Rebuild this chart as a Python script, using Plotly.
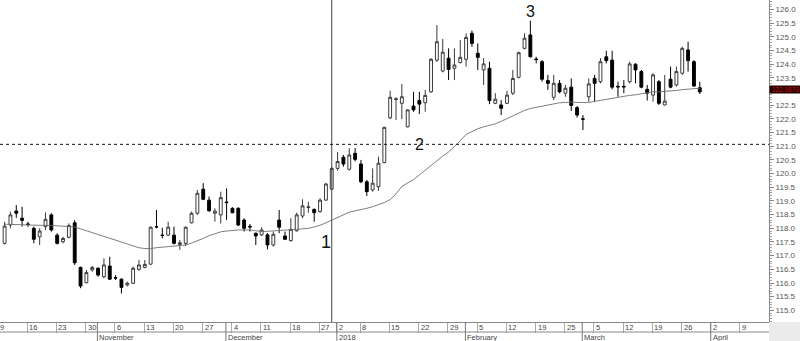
import pandas as pd
import plotly.graph_objects as go

# ---------------- data ----------------
holidays = ["2017-12-25", "2017-12-26", "2018-01-01"]
first_date = "2017-10-10"
last_date = "2018-03-29"

opens = [117.45, 118.12, 118.63, 118.37, 118.16, 118.00, 117.69, 118.06, 118.49, 117.75,
         117.51, 117.67, 118.20, 116.57, 116.01, 116.48, 116.54, 116.23, 116.62, 116.20,
         116.14, 115.93, 115.99, 116.50, 116.57, 116.69, 118.06, 117.75, 117.75, 117.75,
         117.41, 117.45, 118.20, 118.55, 119.43, 119.03, 118.55, 118.49, 118.96, 118.73,
         118.73, 118.30, 118.07, 117.82, 117.76, 117.76, 117.39, 118.30, 117.72, 117.55,
         117.91, 118.45, 118.76, 118.69, 118.61, 119.03, 119.43, 120.19, 120.60, 120.16,
         120.74, 120.35, 119.70, 119.40, 119.52, 120.40, 122.04, 122.71, 122.57, 121.71,
         122.47, 122.67, 122.59, 122.99, 124.15, 123.75, 124.22, 123.85, 124.06, 124.18,
         125.13, 124.40, 123.79, 123.85, 122.57, 122.51, 122.57, 122.94, 123.52, 124.58,
         125.07, 124.19, 124.09, 123.40, 122.79, 123.30, 122.94, 123.16, 122.41, 122.00,
         122.81, 123.48, 123.36, 124.27, 124.15, 123.19, 123.19, 123.36, 124.00, 123.73,
         123.08, 122.87, 123.36, 122.51, 123.45, 123.24, 123.67, 124.52, 124.09, 123.14]
highs = [118.24, 118.61, 118.85, 118.79, 118.24, 118.06, 118.00, 118.58, 118.55, 117.82,
         117.69, 118.18, 118.30, 116.60, 116.48, 116.62, 116.57, 116.90, 116.96, 116.29,
         116.17, 116.05, 116.60, 116.84, 116.84, 118.06, 118.67, 118.02, 118.24, 118.06,
         117.57, 118.06, 118.61, 119.40, 119.65, 119.16, 118.73, 119.34, 119.46, 118.77,
         118.77, 118.37, 118.16, 117.84, 118.04, 117.82, 117.88, 118.67, 117.88, 118.37,
         118.57, 119.06, 118.97, 118.73, 119.10, 119.65, 120.25, 120.79, 120.68, 120.93,
         120.93, 120.50, 119.77, 120.19, 120.62, 121.71, 123.03, 122.79, 123.28, 122.35,
         122.99, 122.99, 123.06, 124.22, 125.43, 124.92, 124.58, 124.58, 124.88, 125.13,
         125.23, 124.76, 124.22, 124.09, 122.94, 122.69, 123.03, 123.79, 124.46, 125.13,
         125.59, 124.27, 124.15, 123.61, 123.61, 123.42, 123.24, 123.48, 122.47, 122.14,
         123.48, 123.61, 124.22, 124.49, 124.49, 123.36, 123.42, 124.09, 124.03, 123.79,
         123.24, 123.67, 123.42, 123.61, 123.91, 123.91, 124.64, 124.82, 124.15, 123.36]
lows = [117.41, 118.00, 118.38, 118.06, 118.06, 117.45, 117.39, 117.94, 117.88, 117.41,
        117.45, 117.63, 116.66, 115.81, 115.99, 116.41, 116.23, 116.17, 116.11, 116.11,
        115.62, 115.87, 115.96, 116.45, 116.54, 116.66, 118.00, 117.63, 117.72, 117.41,
        117.21, 117.35, 118.18, 118.49, 119.03, 118.61, 118.24, 118.18, 118.30, 118.55,
        118.08, 117.88, 117.88, 117.39, 117.72, 117.23, 117.33, 117.82, 117.57, 117.51,
        117.88, 118.37, 118.57, 118.24, 118.57, 119.01, 119.40, 120.11, 120.25, 120.11,
        120.44, 119.65, 119.18, 119.34, 119.37, 120.38, 121.99, 121.96, 121.99, 121.69,
        122.26, 122.18, 122.26, 122.96, 124.08, 123.70, 123.42, 123.42, 124.03, 123.91,
        124.64, 123.79, 123.24, 122.54, 122.54, 122.14, 122.54, 122.87, 123.48, 124.54,
        124.25, 124.03, 123.36, 123.06, 122.69, 122.94, 122.81, 122.29, 122.05, 121.59,
        122.63, 122.63, 123.30, 124.03, 123.08, 122.81, 122.94, 123.30, 123.30, 123.12,
        122.67, 122.63, 122.51, 122.49, 123.12, 123.18, 123.61, 123.73, 123.18, 122.91]
closes = [118.08, 118.49, 118.55, 118.29, 118.14, 117.60, 117.90, 118.33, 117.94, 117.45,
          117.63, 118.10, 116.74, 115.89, 116.38, 116.57, 116.29, 116.66, 116.14, 116.18,
          115.84, 115.99, 116.54, 116.66, 116.68, 118.04, 118.05, 117.74, 118.04, 117.45,
          117.47, 118.04, 118.55, 119.28, 119.06, 118.64, 118.63, 119.12, 118.94, 118.57,
          118.12, 118.00, 118.05, 117.72, 117.94, 117.39, 117.78, 118.04, 117.60, 117.96,
          118.49, 118.82, 118.78, 118.57, 119.03, 119.62, 120.19, 120.44, 120.35, 120.68,
          120.52, 119.70, 119.34, 119.65, 120.38, 121.69, 122.79, 122.73, 122.81, 122.33,
          122.33, 122.54, 122.86, 124.18, 124.82, 124.44, 123.81, 123.97, 124.25, 124.98,
          124.76, 124.25, 124.01, 122.67, 122.72, 122.39, 122.87, 123.48, 124.42, 124.95,
          124.27, 124.17, 123.45, 123.30, 123.30, 122.99, 123.12, 122.49, 122.14, 121.99,
          123.28, 123.30, 124.09, 124.13, 123.16, 123.17, 123.17, 124.01, 123.79, 123.16,
          122.94, 123.61, 122.57, 122.65, 123.16, 123.73, 124.58, 124.13, 123.20, 122.9879]
moving_avg = [118.15, 118.15, 118.14, 118.13, 118.12, 118.12, 118.11, 118.10, 118.10, 118.09,
              118.08, 118.06, 118.05, 117.98, 117.91, 117.84, 117.77, 117.70, 117.63, 117.55,
              117.48, 117.41, 117.34, 117.29, 117.26, 117.26, 117.29, 117.32, 117.33, 117.35,
              117.37, 117.39, 117.46, 117.54, 117.63, 117.73, 117.80, 117.87, 117.90, 117.93,
              117.94, 117.94, 117.94, 117.91, 117.88, 117.89, 117.90, 117.91, 117.92, 117.94,
              117.96, 117.98, 118.00, 118.05, 118.11, 118.20, 118.30, 118.40, 118.49, 118.59,
              118.64, 118.68, 118.73, 118.79, 118.86, 118.94, 119.05, 119.26, 119.53, 119.66,
              119.78, 119.95, 120.13, 120.30, 120.47, 120.64, 120.79, 120.99, 121.20, 121.43,
              121.54, 121.64, 121.71, 121.77, 121.82, 121.91, 122.01, 122.12, 122.22, 122.31,
              122.38, 122.42, 122.47, 122.52, 122.56, 122.59, 122.60, 122.62, 122.60, 122.59,
              122.60, 122.64, 122.68, 122.72, 122.76, 122.80, 122.83, 122.86, 122.88, 122.92,
              122.95, 122.99, 122.99, 123.00, 123.02, 123.04, 123.07, 123.09, 123.10, 123.12]

week_dates = ["2017-10-09", "2017-10-16", "2017-10-23", "2017-10-30", "2017-11-06",
              "2017-11-13", "2017-11-20", "2017-11-27", "2017-12-04", "2017-12-11",
              "2017-12-18", "2017-12-27", "2018-01-02", "2018-01-08", "2018-01-15",
              "2018-01-22", "2018-01-29", "2018-02-05", "2018-02-12", "2018-02-19",
              "2018-02-26", "2018-03-05", "2018-03-12", "2018-03-19", "2018-03-26",
              "2018-04-02", "2018-04-09"]
week_labels = ["9", "16", "23", "30", "6", "13", "20", "27", "4", "11", "18", "27", "2",
               "8", "15", "22", "29", "5", "12", "19", "25", "5", "12", "19", "26", "2", "9"]
month_dates = ["2017-11-01", "2017-12-01", "2018-01-02", "2018-02-01", "2018-03-01", "2018-04-02"]
month_labels = ["November", "December", "2018", "February", "March", "April"]

marker_date = "2017-12-29"
level_value = 121.07
wave_labels = ["1", "2", "3"]
wave_dates = ["2017-12-28", "2018-01-22", "2018-02-16"]
wave_values = [117.50, 121.08, 125.91]
wave_sizes = [18, 16, 16]

# ---------------- slots (trading-day axis) ----------------
all_slots = [d.strftime("%Y-%m-%d") for d in pd.bdate_range("2017-10-09", "2018-04-20")]
all_slots = [d for d in all_slots if d not in holidays]
slot_of = {d: k for k, d in enumerate(all_slots)}
dates = [d for d in all_slots if first_date <= d <= last_date]
xs = [slot_of[d] for d in dates]

X_RANGE = [0.213, 131.85]
Y_RANGE = [114.574, 126.347]
TICK_OFF = -0.12
FONT = "Arial, Liberation Sans, sans-serif"
W, H = 800, 341
ML, MR, MT, MB = 0, 31, 0, 19
plot_h = H - MT - MB


def to_paper_x(slot):
    return (slot - X_RANGE[0]) / (X_RANGE[1] - X_RANGE[0])


fig = go.Figure()
fig.add_trace(go.Scatter(
    x=xs, y=moving_avg, mode="lines",
    line=dict(color="#6e6e6e", width=0.9), hoverinfo="skip", showlegend=False,
))
fig.add_trace(go.Candlestick(
    x=xs, open=opens, high=highs, low=lows, close=closes,
    increasing=dict(line=dict(color="#3a3a3a", width=1), fillcolor="white"),
    decreasing=dict(line=dict(color="black", width=1), fillcolor="black"),
    whiskerwidth=0, hoverinfo="skip", showlegend=False,
))

shapes = []
shapes.append(dict(type="line", xref="x", yref="paper", x0=slot_of[marker_date], x1=slot_of[marker_date],
                   y0=0, y1=1, line=dict(color="#444444", width=1)))
shapes.append(dict(type="line", xref="paper", yref="y", x0=0, x1=1, y0=level_value, y1=level_value,
                   line=dict(color="#111111", width=1, dash="dot")))
shapes.append(dict(type="line", xref="paper", yref="paper", x0=0, x1=1,
                   y0=-10 / plot_h, y1=-10 / plot_h, line=dict(color="#888888", width=1)))
for d in month_dates:
    shapes.append(dict(type="line", xref="x", yref="paper", x0=slot_of[d] + TICK_OFF, x1=slot_of[d] + TICK_OFF,
                       y0=0, y1=-MB / plot_h, line=dict(color="#777777", width=1)))
shapes.append(dict(type="rect", xref="paper", yref="paper", x0=1, x1=(W - ML) / (W - ML - MR),
                   y0=0, y1=-MB / plot_h, fillcolor="#ebebeb", line=dict(width=0)))

annotations = []
for d, t in zip(week_dates, week_labels):
    annotations.append(dict(x=to_paper_x(slot_of[d] + TICK_OFF), xref="paper", y=0, yref="paper", text=t,
                            xanchor="left", yanchor="top", xshift=1, yshift=0, showarrow=False,
                            borderpad=0, font=dict(family=FONT, size=7.5, color="#444444")))
for d, t in zip(month_dates, month_labels):
    annotations.append(dict(x=to_paper_x(slot_of[d] + TICK_OFF), xref="paper", y=0, yref="paper", text=t,
                            xanchor="left", yanchor="top", xshift=1, yshift=-10, showarrow=False,
                            borderpad=0, font=dict(family=FONT, size=7.5, color="#444444")))
for t, d, v, s in zip(wave_labels, wave_dates, wave_values, wave_sizes):
    annotations.append(dict(x=slot_of[d], xref="x", y=v, yref="y", text=t, showarrow=False,
                            font=dict(family=FONT, size=s, color="#111111")))
annotations.append(dict(x=1, xref="paper", y=closes[-1], yref="y", text=f"{closes[-1]:.4f}",
                        xanchor="left", yanchor="middle", yshift=2, showarrow=False,
                        bgcolor="#2a0000", borderpad=0, width=31, height=7, align="center",
                        font=dict(family=FONT, size=6.5, color="#c01010")))

ytick_vals = [115 + 0.5 * k for k in range(23)]
ytick_vals = [v for v in ytick_vals if abs(v - 123.0) > 1e-9]

fig.update_layout(
    width=W, height=H, margin=dict(l=ML, r=MR, t=MT, b=MB),
    paper_bgcolor="white", plot_bgcolor="white",
    shapes=shapes, annotations=annotations, showlegend=False, boxgap=0.3,
    font=dict(family=FONT),
    xaxis=dict(range=X_RANGE, showgrid=False, zeroline=False, showticklabels=False,
               tickvals=[slot_of[d] + TICK_OFF for d in week_dates], ticks="outside", ticklen=10,
               tickcolor="#aaaaaa", showline=True, linecolor="#888888", linewidth=1,
               rangeslider=dict(visible=False), fixedrange=True),
    yaxis=dict(side="right", range=Y_RANGE, showgrid=False, zeroline=False,
               tickvals=ytick_vals, tickformat=".1f", ticks="outside", ticklen=4,
               tickcolor="#888888", showline=True, linecolor="#888888", linewidth=1,
               tickfont=dict(family=FONT, size=8, color="#555555"),
               minor=dict(dtick=0.1, tick0=115, ticks="outside", ticklen=2, tickcolor="#aaaaaa"),
               fixedrange=True),
)

fig.write_html("out.html", config={"displayModeBar": False})
